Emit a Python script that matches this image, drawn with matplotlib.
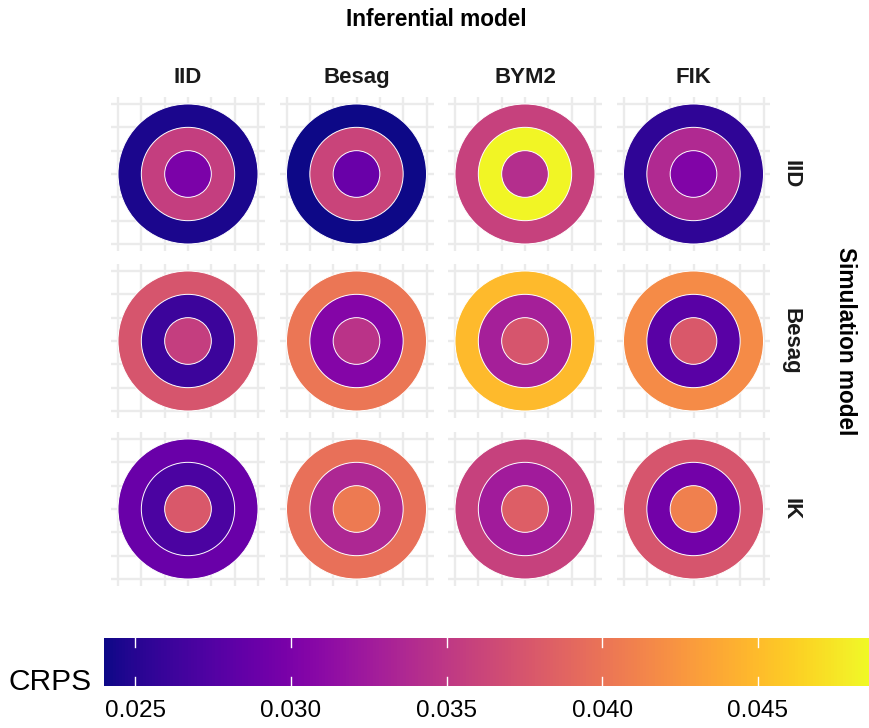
import matplotlib
matplotlib.use("Agg")
import matplotlib.pyplot as plt
from matplotlib.patches import Circle
from matplotlib.colors import Normalize
from matplotlib.cm import ScalarMappable

plt.rcParams['font.family'] = ['Liberation Sans', 'DejaVu Sans']

# facet labels
inf_models = ['IID', 'Besag', 'BYM2', 'FIK']
sim_models = ['IID', 'Besag', 'IK']

# CRPS per ring, rows = simulation model, cols = inferential model
crps_outer = [[0.0245, 0.0240, 0.0358, 0.0255],
              [0.0375, 0.0402, 0.0449, 0.0417],
              [0.0289, 0.0397, 0.0358, 0.0375]]
crps_middle = [[0.0356, 0.0361, 0.0484, 0.0338],
               [0.0262, 0.0306, 0.0329, 0.0279],
               [0.0270, 0.0336, 0.0326, 0.0294]]
crps_inner = [[0.0300, 0.0289, 0.0341, 0.0304],
              [0.0356, 0.0346, 0.0375, 0.0378],
              [0.0378, 0.0405, 0.0383, 0.0410]]
ring_radius = [3, 2, 1]

cbar_ticks = [0.025, 0.030, 0.035, 0.040, 0.045]
crps_min, crps_max = 0.0240, 0.0486

W, H = 870, 728
fig = plt.figure(figsize=(W / 100, H / 100), dpi=100)


def px(x, y, w, h):
    return [x / W, 1 - (y + h) / H, w / W, h / H]


norm = Normalize(crps_min, crps_max)
cmap = plt.get_cmap('plasma')

col_left = [111, 279.5, 448, 616.5]
row_top = [97, 264, 432]
size = 154

for i, sim in enumerate(sim_models):
    for j, inf in enumerate(inf_models):
        ax = fig.add_axes(px(col_left[j], row_top[i], size, size))
        ax.set_xlim(-3.3, 3.3)
        ax.set_ylim(-3.3, 3.3)
        for g in range(-3, 4):
            ax.axvline(g, color='#ebebeb', lw=1.7, zorder=0)
            ax.axhline(g, color='#ebebeb', lw=1.7, zorder=0)
        vals = [crps_outer[i][j], crps_middle[i][j], crps_inner[i][j]]
        for r, v in zip(ring_radius, vals):
            ax.add_patch(Circle((0, 0), r, facecolor=cmap(norm(v)),
                                edgecolor='white', lw=0.7, zorder=2))
        ax.set_xticks([])
        ax.set_yticks([])
        for s in ax.spines.values():
            s.set_visible(False)

# strip labels
for j, inf in enumerate(inf_models):
    fig.text((col_left[j] + size / 2) / W, 1 - 83 / H, inf,
             ha='center', va='baseline', fontsize=16, fontweight='bold', color='#1a1a1a')
for i, sim in enumerate(sim_models):
    fig.text(791 / W, 1 - (row_top[i] + size / 2) / H, sim, rotation=-90,
             ha='center', va='center', fontsize=16, fontweight='bold', color='#1a1a1a')

fig.text(436 / W, 1 - 20 / H, 'Inferential model', ha='center', va='center',
         fontsize=16.3, fontweight='bold')
fig.text(846 / W, 1 - 341 / H, 'Simulation model', rotation=-90, ha='center',
         va='center', fontsize=16.3, fontweight='bold')

# colour bar
cax = fig.add_axes(px(104, 638, 766, 48))
cb = fig.colorbar(ScalarMappable(norm=norm, cmap=cmap), cax=cax,
                  orientation='horizontal')
cb.outline.set_visible(False)
cb.set_ticks(cbar_ticks)
cb.set_ticklabels([f'{t:.3f}' for t in cbar_ticks])
cax.tick_params(length=0, labelsize=17.5, pad=10)
tr = cax.get_xaxis_transform()
for t in cbar_ticks:
    cax.plot([t, t], [0, 0.18], color='white', lw=1, transform=tr)
    cax.plot([t, t], [0.82, 1], color='white', lw=1, transform=tr)
fig.text(8 / W, 1 - 682 / H, 'CRPS', ha='left', va='center', fontsize=21.5)

fig.savefig('out.png', dpi=100)
